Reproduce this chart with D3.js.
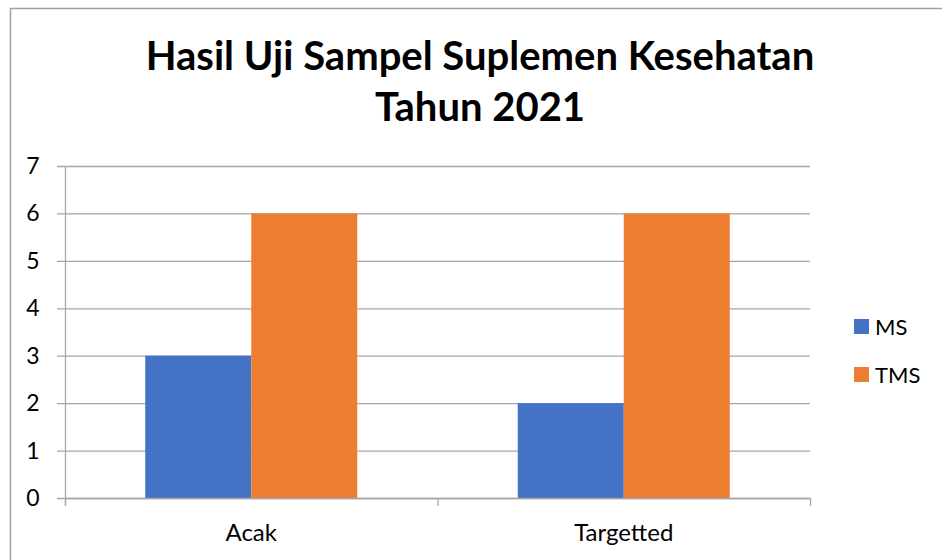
<!DOCTYPE html>
<html>
<head>
<meta charset="utf-8">
<script src="https://cdn.jsdelivr.net/npm/d3@7"></script>
<style>
  body { margin: 0; background: #fff; }
  text { font-family: Lato, "Open Sans", sans-serif; fill: #000; }
</style>
</head>
<body>
<script>
// data
const categories = ["Acak", "Targetted"];
const seriesNames = ["MS", "TMS"];
const msValues = [3, 2];
const tmsValues = [6, 6];
const yTicks = [0, 1, 2, 3, 4, 5, 6, 7];
const colors = ["#4472c4", "#ed7d31"];

const W = 942, H = 560;
const svg = d3.select("body").append("svg").attr("width", W).attr("height", H);

// outer chart border
svg.append("rect")
  .attr("x", 10.5).attr("y", 8.5)
  .attr("width", 960).attr("height", 600)
  .attr("fill", "#fff").attr("stroke", "#a0a0a0").attr("stroke-width", 1.5);

// title
const title = svg.append("text")
  .attr("text-anchor", "middle")
  .attr("font-weight", "bold")
  .attr("font-size", 40);
title.append("tspan").attr("x", 480).attr("y", 70).text("Hasil Uji Sampel Suplemen Kesehatan");
title.append("tspan").attr("x", 480).attr("y", 121).text("Tahun 2021");

const pLeft = 65, pRight = 810, pTop = 166, pBottom = 498;

const x0 = d3.scaleBand().domain(categories).range([pLeft, pRight]).paddingInner(0).paddingOuter(0);
const x1 = d3.scaleBand().domain(seriesNames).range([0, x0.bandwidth()]).paddingInner(0).paddingOuter(0.757);
const y = d3.scaleLinear().domain([0, 7]).range([pBottom, pTop]);

// gridlines
svg.append("g").selectAll("line")
  .data(yTicks)
  .enter()
  .append("line")
  .attr("x1", pLeft - 8).attr("x2", pRight)
  .attr("y1", d => y(d) + 0.5).attr("y2", d => y(d) + 0.5)
  .attr("stroke", "#a6a6a6").attr("stroke-width", 1.3);

// bars
const rows = categories.map((c, i) => ({cat: c, vals: [msValues[i], tmsValues[i]]}));
const groups = svg.append("g").selectAll("g")
  .data(rows)
  .enter()
  .append("g")
  .attr("transform", d => "translate(" + x0(d.cat) + ",0)");

groups.selectAll("rect")
  .data(d => d.vals.map((v, j) => ({name: seriesNames[j], v: v, j: j})))
  .enter()
  .append("rect")
  .attr("x", d => x1(d.name))
  .attr("width", x1.bandwidth())
  .attr("y", d => y(d.v))
  .attr("height", d => y(0) - y(d.v))
  .attr("fill", d => colors[d.j]);

// y axis line
svg.append("line")
  .attr("x1", pLeft + 0.5).attr("x2", pLeft + 0.5)
  .attr("y1", pTop).attr("y2", pBottom + 8)
  .attr("stroke", "#a6a6a6").attr("stroke-width", 1.3);

// x axis line and ticks
svg.append("line")
  .attr("x1", pLeft).attr("x2", pRight)
  .attr("y1", pBottom + 0.5).attr("y2", pBottom + 0.5)
  .attr("stroke", "#a6a6a6").attr("stroke-width", 1.3);

const xTickPos = [pLeft].concat(categories.map(c => x0(c) + x0.bandwidth()));
svg.append("g").selectAll("line")
  .data(xTickPos)
  .enter()
  .append("line")
  .attr("x1", d => d + 0.5).attr("x2", d => d + 0.5)
  .attr("y1", pBottom).attr("y2", pBottom + 8)
  .attr("stroke", "#a6a6a6").attr("stroke-width", 1.3);

// y labels
svg.append("g").selectAll("text")
  .data(yTicks)
  .enter()
  .append("text")
  .attr("x", 33)
  .attr("y", d => y(d) + 8)
  .attr("text-anchor", "middle")
  .attr("font-size", 23)
  .text(d => d);

// x labels
svg.append("g").selectAll("text")
  .data(categories)
  .enter()
  .append("text")
  .attr("x", d => x0(d) + x0.bandwidth() / 2)
  .attr("y", 541)
  .attr("text-anchor", "middle")
  .attr("font-size", 24)
  .text(d => d);

// legend
const legend = svg.append("g").selectAll("g")
  .data(seriesNames)
  .enter()
  .append("g")
  .attr("transform", (d, i) => "translate(854," + (319 + i * 48) + ")");
legend.append("rect")
  .attr("width", 15).attr("height", 15)
  .attr("fill", (d, i) => colors[i]);
legend.append("text")
  .attr("x", 21).attr("y", 16)
  .attr("font-size", 22)
  .text(d => d);
</script>
</body>
</html>
